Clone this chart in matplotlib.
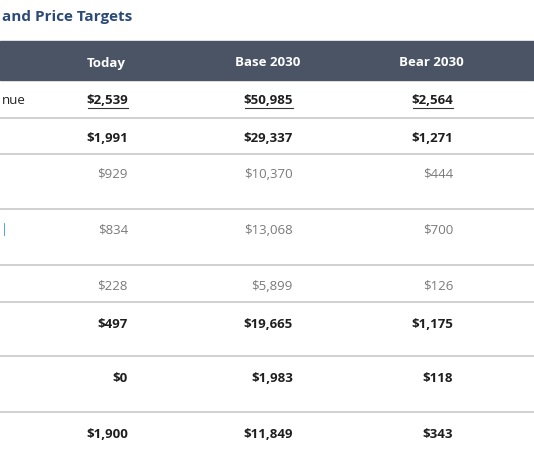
import matplotlib
matplotlib.use("Agg")
import matplotlib.pyplot as plt

columns = ['Today', 'Base 2030', 'Bear 2030']
today = ['$2,539', '$1,991', '$929', '$834', '$228', '$497', '$0', '$1,900']
base_2030 = ['$50,985', '$29,337', '$10,370', '$13,068', '$5,899', '$19,665', '$1,983', '$11,849']
bear_2030 = ['$2,564', '$1,271', '$444', '$700', '$126', '$1,175', '$118', '$343']
row_bold = [True, True, False, False, False, True, True, True]

W, H = 534, 462
fig = plt.figure(figsize=(W / 100, H / 100), dpi=100)
ax = fig.add_axes([0, 0, 1, 1])
ax.set_xlim(0, W)
ax.set_ylim(H, 0)
ax.axis('off')

ax.text(2, 17, 'and Price Targets', color='#2b4a78', fontsize=11,
        fontweight='bold', va='center', ha='left', family='Open Sans')

# header band
ax.add_patch(plt.Rectangle((0, 41), W, 39, color='#4a5465'))
head_x = [106, 268, 431]
for x, c in zip(head_x, columns):
    ax.text(x, 63, c, color='white', fontsize=9.5, fontweight='bold',
            ha='center', va='center', family='Open Sans')

ax.text(2, 101, 'nue', fontsize=9.5, va='center', ha='left',
        color='#222222', family='Open Sans')
ax.text(0.5, 230, '|', fontsize=9, va='center', ha='left',
        color='#3aa0d0', family='Open Sans')

row_y = [101, 138, 174, 230, 286, 324, 378, 434]
line_y = [118, 154, 209, 265, 302, 356, 412]
for y in line_y:
    ax.plot([0, W], [y, y], color='#c8c8c8', lw=1.2)

right_x = [128, 293, 453]
for col, vals in enumerate([today, base_2030, bear_2030]):
    for i, v in enumerate(vals):
        bold = row_bold[i]
        ax.text(right_x[col], row_y[i], v, ha='right', va='center',
                fontsize=9.5, family='Open Sans',
                fontweight='bold' if bold else 'normal',
                color='#1e1e1e' if bold else '#7a7a7a')
        if i == 0:
            w = 40 if col != 1 else 48
            ax.plot([right_x[col] - w, right_x[col]], [row_y[i] + 7, row_y[i] + 7],
                    color='#333333', lw=0.8)

fig.savefig('out.png', dpi=100)
